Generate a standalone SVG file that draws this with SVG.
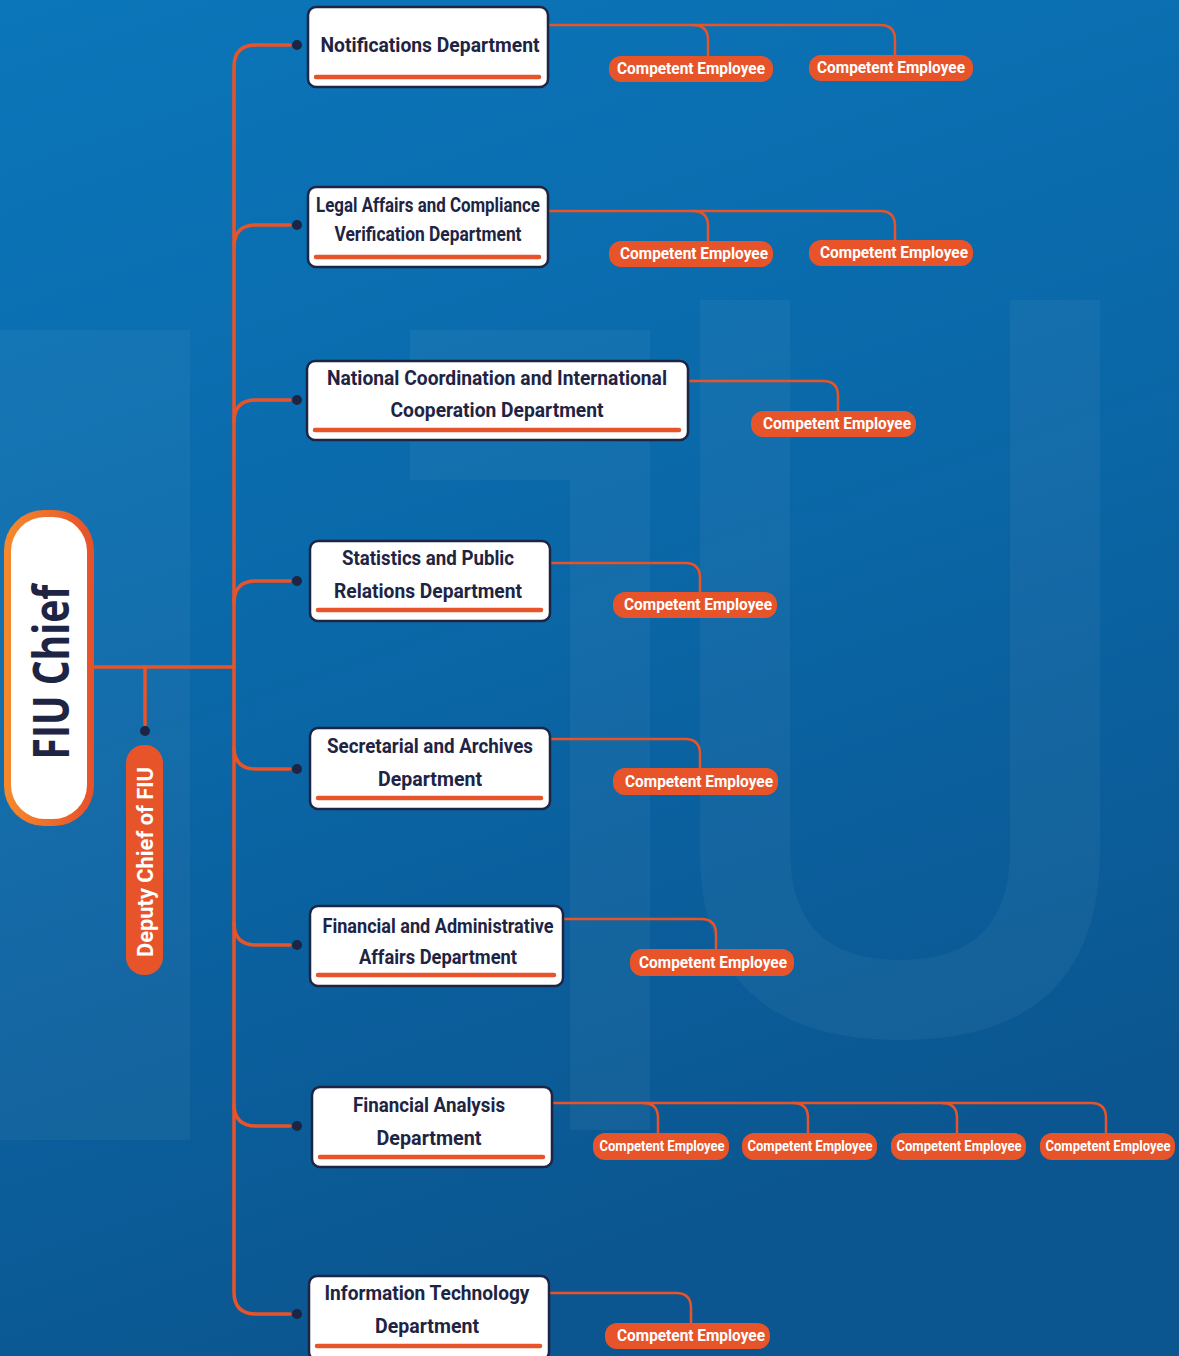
<svg xmlns="http://www.w3.org/2000/svg" width="1179" height="1356" viewBox="0 0 1179 1356">
<defs>
<linearGradient id="bg" x1="0" y1="0" x2="0.3" y2="1">
<stop offset="0" stop-color="#0b76ba"/>
<stop offset="0.5" stop-color="#0a68a8"/>
<stop offset="1" stop-color="#0b5690"/>
</linearGradient>
<linearGradient id="og" x1="0" y1="0" x2="1" y2="0">
<stop offset="0" stop-color="#f58a2c"/>
<stop offset="1" stop-color="#e6502a"/>
</linearGradient>
<style>
.ln{fill:none;stroke:#e8542a;stroke-width:3.5;stroke-linecap:round;stroke-linejoin:round}
.sl{fill:none;stroke:#e8542a;stroke-width:2.5;stroke-linecap:round;stroke-linejoin:round}
.dot{fill:#1e2443}
.box{fill:#ffffff;stroke:#1e2443;stroke-width:2.5}
.ul{stroke:#e8542a;stroke-width:4.5;stroke-linecap:round}
.dt{font-family:Roboto,"Liberation Sans",sans-serif;font-weight:700;font-size:20px;fill:#1e2443;text-anchor:middle}
.pill{fill:#e8542a}
.pt{font-family:Roboto,"Liberation Sans",sans-serif;font-weight:700;font-size:16px;fill:#ffffff;text-anchor:middle}
.ps{font-family:Roboto,"Liberation Sans",sans-serif;font-weight:700;font-size:14px;fill:#ffffff;text-anchor:middle}
.wm{fill:#ffffff;opacity:0.045}
</style>
</defs>
<rect width="1179" height="1356" fill="url(#bg)"/>
<g id="watermark">
<path class="wm" d="M0,330 H190 V1140 H0 Z"/>
<path class="wm" d="M410,330 H650 V1130 H570 V480 H410 Z"/>
<path class="wm" d="M700,300 H790 V850 Q790,960 900,960 Q1010,960 1010,850 V300 H1100 V850 Q1100,1040 900,1040 Q700,1040 700,850 Z"/>
</g>
<g id="connectors">
<path class="ln" d="M94,667 H234"/>
<path class="ln" d="M145,667 V725"/>
<circle class="dot" cx="145" cy="731" r="5"/>
<path class="ln" d="M290,45 H256 Q234,45 234,67 V1292 Q234,1314 256,1314 H290"/>
<path class="ln" d="M290,225 H256 Q234,225 234,247"/>
<path class="ln" d="M290,400 H256 Q234,400 234,422"/>
<path class="ln" d="M290,581 H256 Q234,581 234,603"/>
<path class="ln" d="M290,769 H256 Q234,769 234,747"/>
<path class="ln" d="M290,945 H256 Q234,945 234,923"/>
<path class="ln" d="M290,1126 H256 Q234,1126 234,1104"/>
<circle class="dot" cx="297" cy="45" r="5"/>
<circle class="dot" cx="297" cy="225" r="5"/>
<circle class="dot" cx="297" cy="400" r="5"/>
<circle class="dot" cx="297" cy="581" r="5"/>
<circle class="dot" cx="297" cy="769" r="5"/>
<circle class="dot" cx="297" cy="945" r="5"/>
<circle class="dot" cx="297" cy="1126" r="5"/>
<circle class="dot" cx="297" cy="1314" r="5"/>
<path class="sl" d="M548,25 H880 Q895,25 895,40 V55"/>
<path class="sl" d="M693,25 Q708,25 708,40 V56"/>
<path class="sl" d="M548,211 H880 Q895,211 895,226 V240"/>
<path class="sl" d="M693,211 Q708,211 708,226 V241"/>
<path class="sl" d="M688,381 H823 Q838,381 838,396 V411"/>
<path class="sl" d="M550,563 H685 Q700,563 700,578 V592"/>
<path class="sl" d="M550,739 H685 Q700,739 700,754 V768"/>
<path class="sl" d="M563,919 H701 Q716,919 716,934 V949"/>
<path class="sl" d="M552,1103 H1091 Q1106,1103 1106,1118 V1133"/>
<path class="sl" d="M643,1103 Q658,1103 658,1118 V1133"/>
<path class="sl" d="M793,1103 Q808,1103 808,1118 V1133"/>
<path class="sl" d="M942,1103 Q957,1103 957,1118 V1133"/>
<path class="sl" d="M549,1293 H676 Q691,1293 691,1308 V1323"/>
</g>
<g id="fiu-chief">
<rect x="4" y="510" width="90" height="316" rx="40" fill="url(#og)"/>
<rect x="11" y="517" width="76" height="302" rx="34" fill="#ffffff"/>
<text transform="translate(69,672) rotate(-90)" text-anchor="middle" font-family="'Open Sans',Roboto,'Liberation Sans',sans-serif" font-weight="700" font-size="50" fill="#1e2443" textLength="175" lengthAdjust="spacingAndGlyphs">FIU Chief</text>
</g>
<g id="deputy-chief">
<rect x="126" y="745" width="37" height="230" rx="18" fill="#e8542a"/>
<text transform="translate(153,862) rotate(-90)" text-anchor="middle" font-family="Roboto,'Liberation Sans',sans-serif" font-weight="700" font-size="22" fill="#ffffff" textLength="190" lengthAdjust="spacingAndGlyphs">Deputy Chief of FIU</text>
</g>
<g id="dept-notifications">
<rect class="box" x="308" y="7" width="240" height="80" rx="8"/>
<text class="dt" x="430" y="52" textLength="219" lengthAdjust="spacingAndGlyphs">Notifications Department</text>
<line class="ul" x1="316" y1="77" x2="539" y2="77"/>
</g>
<g id="dept-legal">
<rect class="box" x="308" y="187" width="240" height="80" rx="8"/>
<text class="dt" x="428" y="212" textLength="224" lengthAdjust="spacingAndGlyphs">Legal Affairs and Compliance</text>
<text class="dt" x="428" y="241" textLength="187" lengthAdjust="spacingAndGlyphs">Verification Department</text>
<line class="ul" x1="316" y1="257" x2="539" y2="257"/>
</g>
<g id="dept-national">
<rect class="box" x="307" y="361" width="381" height="79" rx="8"/>
<text class="dt" x="497" y="385" textLength="340" lengthAdjust="spacingAndGlyphs">National Coordination and International</text>
<text class="dt" x="497" y="417" textLength="213" lengthAdjust="spacingAndGlyphs">Cooperation Department</text>
<line class="ul" x1="315" y1="430" x2="679" y2="430"/>
</g>
<g id="dept-statistics">
<rect class="box" x="310" y="541" width="240" height="80" rx="8"/>
<text class="dt" x="428" y="565" textLength="172" lengthAdjust="spacingAndGlyphs">Statistics and Public</text>
<text class="dt" x="428" y="598" textLength="188" lengthAdjust="spacingAndGlyphs">Relations Department</text>
<line class="ul" x1="318" y1="610" x2="541" y2="610"/>
</g>
<g id="dept-secretarial">
<rect class="box" x="310" y="728" width="240" height="81" rx="8"/>
<text class="dt" x="430" y="753" textLength="206" lengthAdjust="spacingAndGlyphs">Secretarial and Archives</text>
<text class="dt" x="430" y="786" textLength="104" lengthAdjust="spacingAndGlyphs">Department</text>
<line class="ul" x1="318" y1="798" x2="541" y2="798"/>
</g>
<g id="dept-financial-admin">
<rect class="box" x="310" y="906" width="253" height="80" rx="8"/>
<text class="dt" x="438" y="933" textLength="231" lengthAdjust="spacingAndGlyphs">Financial and Administrative</text>
<text class="dt" x="438" y="964" textLength="158" lengthAdjust="spacingAndGlyphs">Affairs Department</text>
<line class="ul" x1="318" y1="975" x2="554" y2="975"/>
</g>
<g id="dept-financial-analysis">
<rect class="box" x="312" y="1087" width="240" height="80" rx="8"/>
<text class="dt" x="429" y="1112" textLength="152" lengthAdjust="spacingAndGlyphs">Financial Analysis</text>
<text class="dt" x="429" y="1145" textLength="105" lengthAdjust="spacingAndGlyphs">Department</text>
<line class="ul" x1="320" y1="1157" x2="543" y2="1157"/>
</g>
<g id="dept-it">
<rect class="box" x="309" y="1276" width="240" height="84" rx="8"/>
<text class="dt" x="427" y="1300" textLength="205" lengthAdjust="spacingAndGlyphs">Information Technology</text>
<text class="dt" x="427" y="1333" textLength="104" lengthAdjust="spacingAndGlyphs">Department</text>
<line class="ul" x1="317" y1="1346" x2="540" y2="1346"/>
</g>
<g id="emp-1a"><rect class="pill" x="609" y="56" width="164" height="26" rx="12"/><text class="pt" x="691" y="74" textLength="148" lengthAdjust="spacingAndGlyphs">Competent Employee</text></g>
<g id="emp-1b"><rect class="pill" x="809" y="55" width="164" height="26" rx="12"/><text class="pt" x="891" y="73" textLength="148" lengthAdjust="spacingAndGlyphs">Competent Employee</text></g>
<g id="emp-2a"><rect class="pill" x="609" y="241" width="164" height="26" rx="12"/><text class="pt" x="694" y="259" textLength="148" lengthAdjust="spacingAndGlyphs">Competent Employee</text></g>
<g id="emp-2b"><rect class="pill" x="809" y="240" width="164" height="26" rx="12"/><text class="pt" x="894" y="258" textLength="148" lengthAdjust="spacingAndGlyphs">Competent Employee</text></g>
<g id="emp-3"><rect class="pill" x="751" y="411" width="165" height="26" rx="12"/><text class="pt" x="837" y="429" textLength="148" lengthAdjust="spacingAndGlyphs">Competent Employee</text></g>
<g id="emp-4"><rect class="pill" x="613" y="592" width="164" height="26" rx="12"/><text class="pt" x="698" y="610" textLength="148" lengthAdjust="spacingAndGlyphs">Competent Employee</text></g>
<g id="emp-5"><rect class="pill" x="613" y="768" width="165" height="27" rx="12"/><text class="pt" x="699" y="787" textLength="148" lengthAdjust="spacingAndGlyphs">Competent Employee</text></g>
<g id="emp-6"><rect class="pill" x="630" y="949" width="164" height="27" rx="12"/><text class="pt" x="713" y="968" textLength="148" lengthAdjust="spacingAndGlyphs">Competent Employee</text></g>
<g id="emp-7a"><rect class="pill" x="593" y="1133" width="136" height="27" rx="12"/><text class="ps" x="662" y="1151" textLength="125" lengthAdjust="spacingAndGlyphs">Competent Employee</text></g>
<g id="emp-7b"><rect class="pill" x="742" y="1133" width="135" height="27" rx="12"/><text class="ps" x="810" y="1151" textLength="125" lengthAdjust="spacingAndGlyphs">Competent Employee</text></g>
<g id="emp-7c"><rect class="pill" x="891" y="1133" width="135" height="27" rx="12"/><text class="ps" x="959" y="1151" textLength="125" lengthAdjust="spacingAndGlyphs">Competent Employee</text></g>
<g id="emp-7d"><rect class="pill" x="1040" y="1133" width="135" height="27" rx="12"/><text class="ps" x="1108" y="1151" textLength="125" lengthAdjust="spacingAndGlyphs">Competent Employee</text></g>
<g id="emp-8"><rect class="pill" x="605" y="1323" width="165" height="26" rx="12"/><text class="pt" x="691" y="1341" textLength="148" lengthAdjust="spacingAndGlyphs">Competent Employee</text></g>
</svg>
